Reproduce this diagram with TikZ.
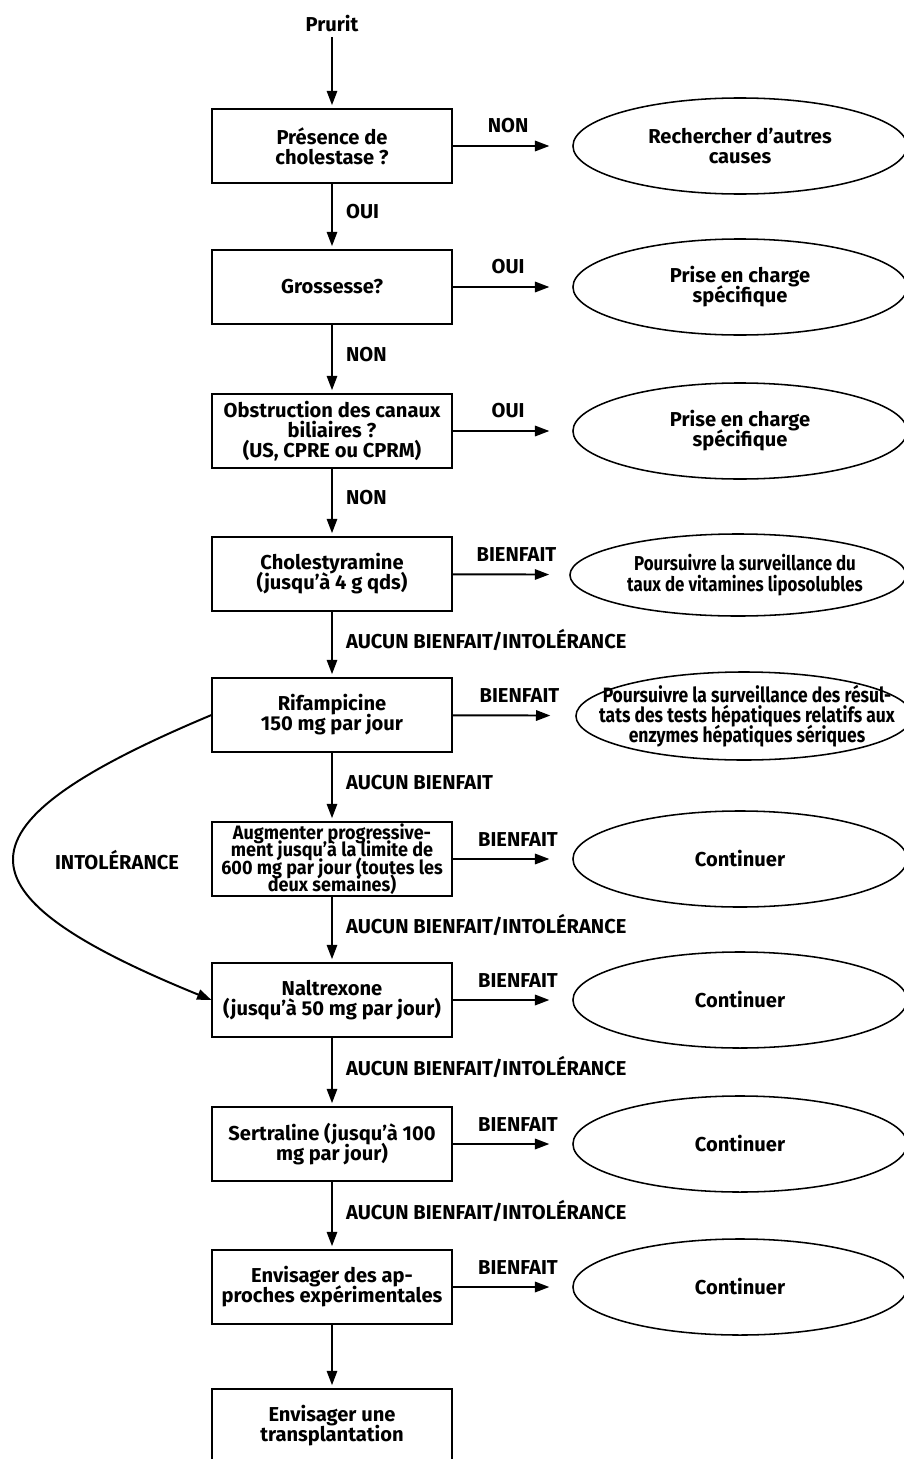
\documentclass[tikz,border=0pt]{standalone}
\usepackage{fontspec}
\setmainfont{Fira Sans}
\newfontfamily\narrowfont{Fira Sans}[FakeStretch=0.84]
\newfontfamily\boxfont{Fira Sans}[FakeStretch=0.93]
\usetikzlibrary{arrows.meta,shapes.geometric,positioning}
\setlength{\lineskiplimit}{-100pt}

\begin{document}
\begin{tikzpicture}[x=0.025cm,y=-0.025cm,
    font=\bfseries\fontsize{14.3}{14.2}\selectfont,
    boite/.style={draw,line width=1.4pt,minimum width=5.975cm,minimum height=1.85cm,align=center,inner sep=1pt},
    bulle/.style={draw,ellipse,line width=1.1pt,minimum width=8.35cm,minimum height=2.4cm,align=center,inner sep=0pt},
    serre/.style={font=\narrowfont\bfseries\fontsize{14.8}{14}\selectfont,align=center,inner sep=0pt},
    fleche/.style={line width=1.4pt,-{Triangle[length=3.6mm,width=2.6mm]}},
    oui/.style={right=6pt,pos=0.43},
    cote/.style={above=5pt,pos=0.5}]
    \useasboundingbox (0,0) rectangle (903,1459);
    %	colonne des questions
    \node (prurit) at (332,24) {Prurit};
    \node[boite] (b1) at (332,146) {Présence de\\cholestase ?};
    \node[boite] (b2) at (332,287) {Grossesse?};
    \node[boite] (b3) at (332,431) {Obstruction des canaux\\biliaires ?\\(US, CPRE ou CPRM)};
    \node[boite] (b4) at (332,574) {Cholestyramine\\(jusqu’à 4 g qds)};
    \node[boite] (b5) at (332,715) {Rifampicine\\150 mg par jour};
    \node[boite,inner ysep=0pt,font=\boxfont\bfseries\fontsize{13.8}{12.4}\selectfont] (b6) at (332,859) {Augmenter progressive-\\ment jusqu’à la limite de\\600 mg par jour (toutes les\\deux semaines)};
    \node[boite] (b7) at (332,1000) {Naltrexone\\(jusqu’à 50 mg par jour)};
    \node[boite] (b8) at (332,1144) {Sertraline (jusqu’à 100\\mg par jour)};
    \node[boite] (b9) at (332,1287) {Envisager des ap-\\proches expérimentales};
    \node[boite] (b10) at (332,1426) {Envisager une\\transplantation};
    %	colonne des issues
    \node[bulle] (e1) at (740,146) {Rechercher d’autres\\causes};
    \node[bulle] (e2) at (740,287) {Prise en charge\\spécifique};
    \node[bulle] (e3) at (740,431) {Prise en charge\\spécifique};
    \node[bulle,minimum width=8.4cm,minimum height=2.05cm] (e4) at (738,575) {};
    \node[serre,font=\narrowfont\bfseries\fontsize{14.3}{14.6}\selectfont] (t4) at (745,575) {Poursuivre la surveillance du\\taux de vitamines liposolubles};
    \node[bulle,minimum width=8.4cm,minimum height=2.2cm] (e5) at (744,716) {};
    \node[serre] (t5) at (747,716) {Poursuivre la surveillance des résul-\\tats des tests hépatiques relatifs aux\\enzymes hépatiques sériques};
    \node[bulle] (e6) at (740,859) {Continuer};
    \node[bulle] (e7) at (740,1000) {Continuer};
    \node[bulle] (e8) at (740,1144) {Continuer};
    \node[bulle] (e9) at (740,1287) {Continuer};
    %	fleches verticales
    \draw[fleche,shorten >=2pt] (prurit) -- (b1);
    \draw[fleche,shorten >=2pt] (b1) -- node[oui] {OUI} (b2);
    \draw[fleche,shorten >=2pt] (b2) -- node[oui] {NON} (b3);
    \draw[fleche,shorten >=2pt] (b3) -- node[oui] {NON} (b4);
    \draw[fleche,shorten >=2pt] (b4) -- node[oui] {AUCUN BIENFAIT/INTOLÉRANCE} (b5);
    \draw[fleche,shorten >=2pt] (b5) -- node[oui] {AUCUN BIENFAIT} (b6);
    \draw[fleche,shorten >=2pt] (b6) -- node[oui] {AUCUN BIENFAIT/INTOLÉRANCE} (b7);
    \draw[fleche,shorten >=2pt] (b7) -- node[oui] {AUCUN BIENFAIT/INTOLÉRANCE} (b8);
    \draw[fleche,shorten >=2pt] (b8) -- node[oui] {AUCUN BIENFAIT/INTOLÉRANCE} (b9);
    \draw[fleche,shorten >=2pt] (b9) -- (b10);
    %	fleches horizontales
    \draw[fleche,shorten >=0.57cm] (b1) -- node[cote,xshift=-3pt] {NON} (e1);
    \draw[fleche,shorten >=0.57cm] (b2) -- node[cote,xshift=-3pt] {OUI} (e2);
    \draw[fleche,shorten >=0.57cm] (b3) -- node[cote,xshift=-3pt] {OUI} (e3);
    \draw[fleche,shorten >=0.5cm] (b4) -- node[cote,xshift=4pt] {BIENFAIT} (e4);
    \draw[fleche,shorten >=0.62cm] (b5) -- node[cote,xshift=4pt] {BIENFAIT} (e5);
    \draw[fleche,shorten >=0.57cm] (b6) -- node[cote,xshift=4pt] {BIENFAIT} (e6);
    \draw[fleche,shorten >=0.57cm] (b7) -- node[cote,xshift=4pt] {BIENFAIT} (e7);
    \draw[fleche,shorten >=0.57cm] (b8) -- node[cote,xshift=4pt] {BIENFAIT} (e8);
    \draw[fleche,shorten >=0.57cm] (b9) -- node[cote,xshift=4pt] {BIENFAIT} (e9);
    %	intolerance
    \node (intol) at (117,860) {INTOLÉRANCE};
    \draw[fleche] (b5.west) .. controls (-51,825) and (-51,893) .. (b7.west);
\end{tikzpicture}
\end{document}
